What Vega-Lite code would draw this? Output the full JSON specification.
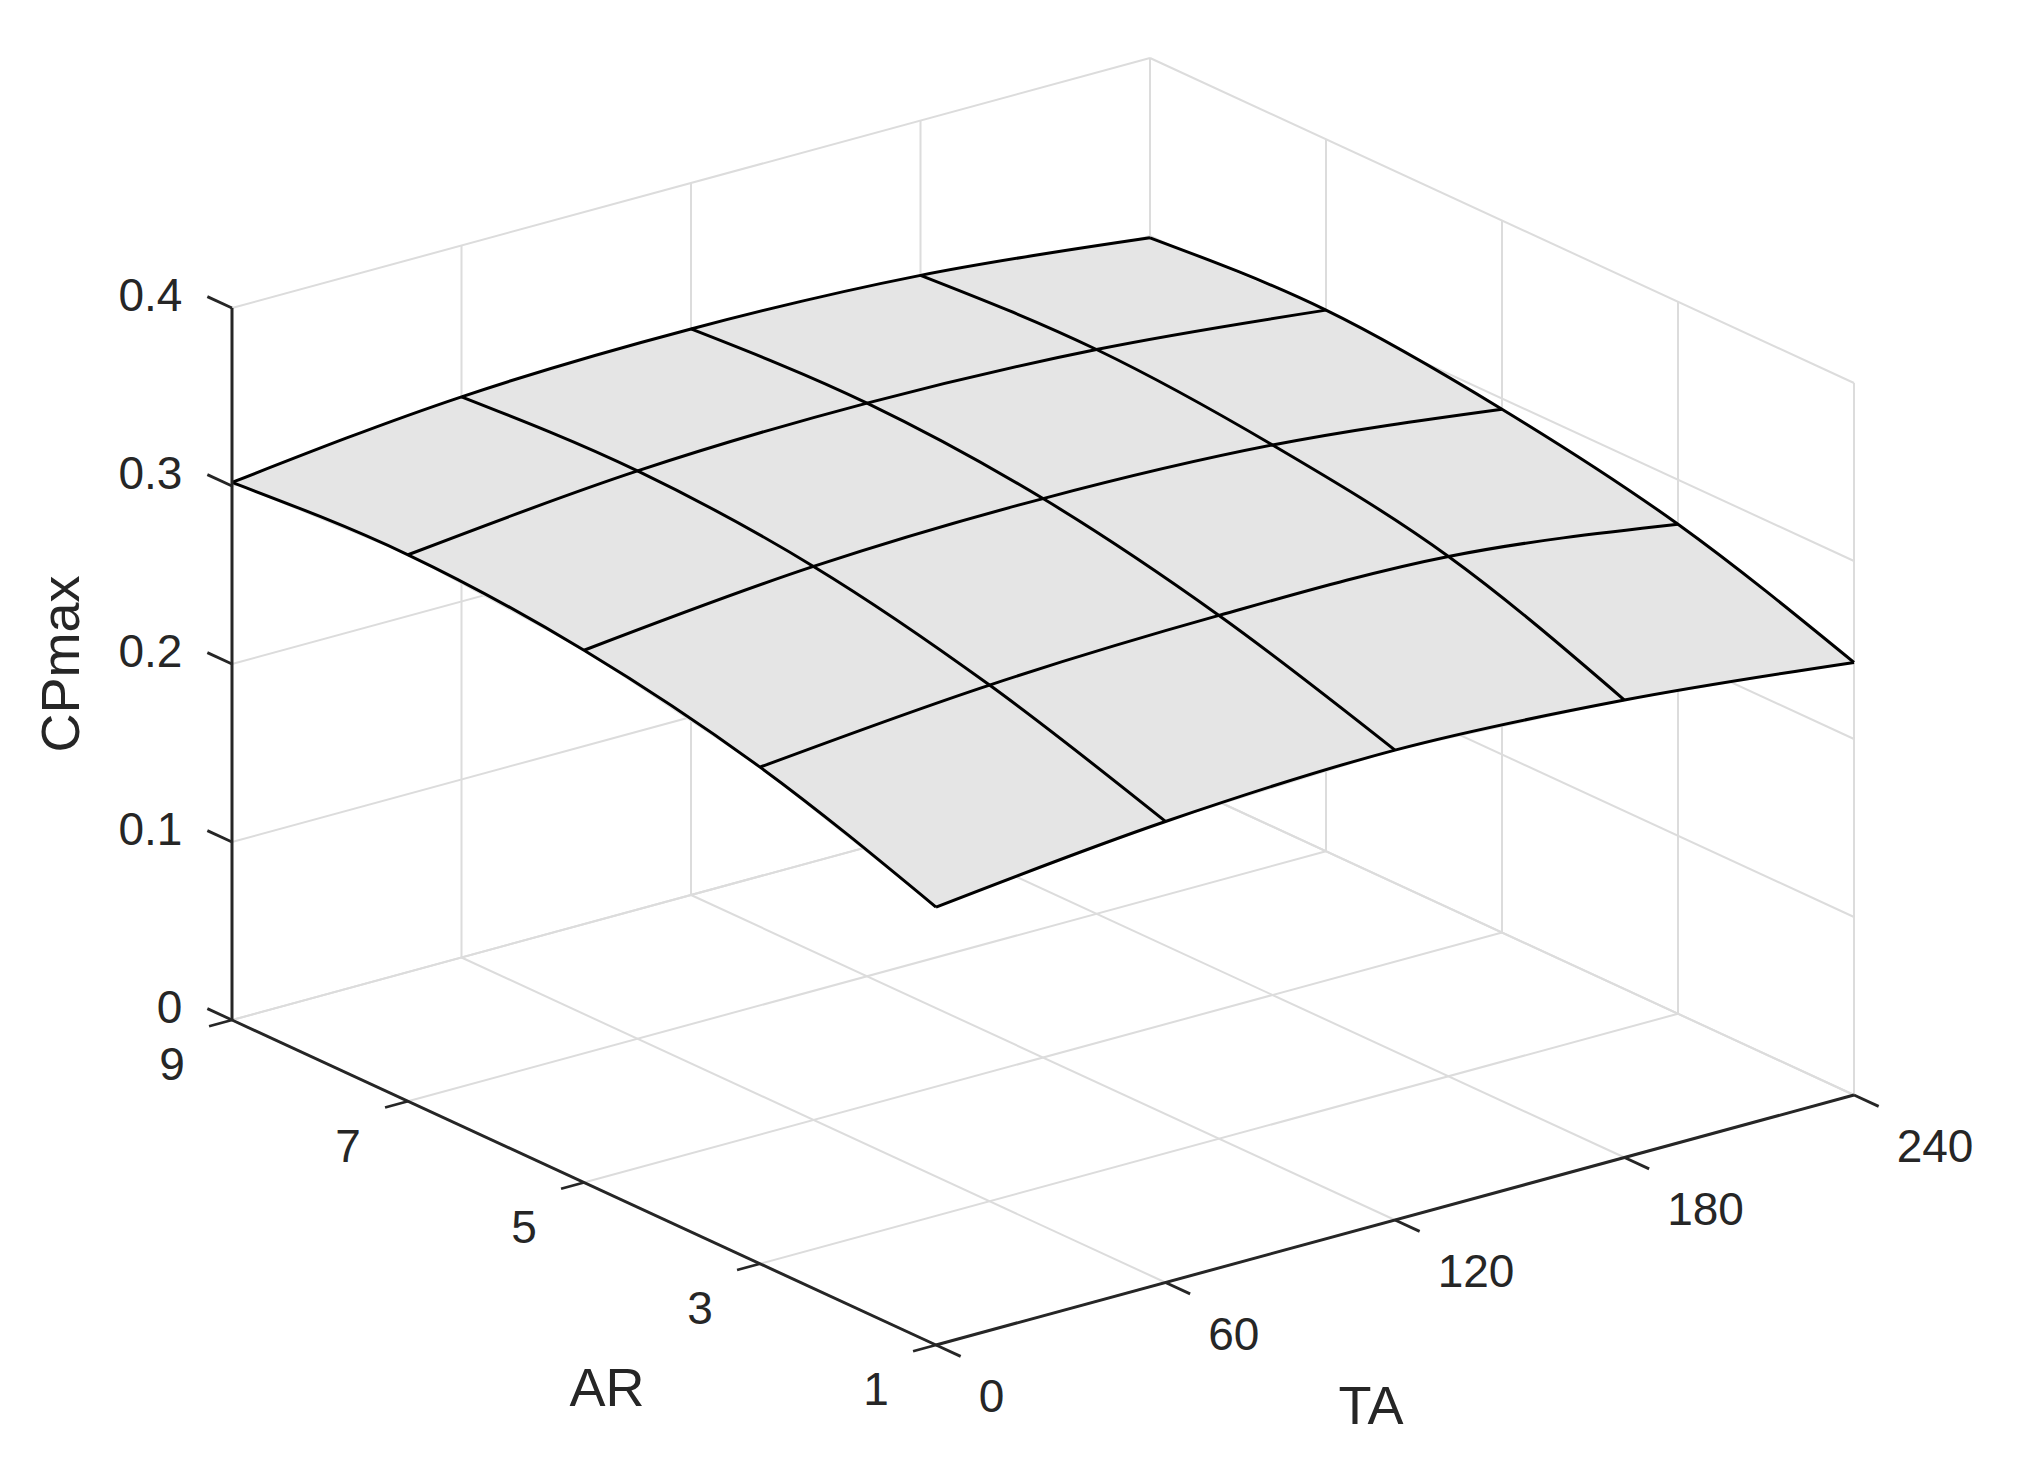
{
  "$schema": "https://vega.github.io/schema/vega-lite/v6.json",
  "width": 2021,
  "height": 1466,
  "autosize": {"type": "fit", "contains": "padding"},
  "padding": 0,
  "background": "white",
  "config": {"view": {"stroke": null}},
  "datasets": {
    "surface": [
      {"AR": 1, "TA": 0, "CPmax": 0.246}, {"AR": 1, "TA": 60, "CPmax": 0.259}, {"AR": 1, "TA": 120, "CPmax": 0.264}, {"AR": 1, "TA": 180, "CPmax": 0.257}, {"AR": 1, "TA": 240, "CPmax": 0.243},
      {"AR": 3, "TA": 0, "CPmax": 0.279}, {"AR": 3, "TA": 60, "CPmax": 0.290}, {"AR": 3, "TA": 120, "CPmax": 0.294}, {"AR": 3, "TA": 180, "CPmax": 0.292}, {"AR": 3, "TA": 240, "CPmax": 0.275},
      {"AR": 5, "TA": 0, "CPmax": 0.299}, {"AR": 5, "TA": 60, "CPmax": 0.311}, {"AR": 5, "TA": 120, "CPmax": 0.314}, {"AR": 5, "TA": 180, "CPmax": 0.309}, {"AR": 5, "TA": 240, "CPmax": 0.294},
      {"AR": 7, "TA": 0, "CPmax": 0.307}, {"AR": 7, "TA": 60, "CPmax": 0.319}, {"AR": 7, "TA": 120, "CPmax": 0.322}, {"AR": 7, "TA": 180, "CPmax": 0.317}, {"AR": 7, "TA": 240, "CPmax": 0.304},
      {"AR": 9, "TA": 0, "CPmax": 0.302}, {"AR": 9, "TA": 60, "CPmax": 0.315}, {"AR": 9, "TA": 120, "CPmax": 0.318}, {"AR": 9, "TA": 180, "CPmax": 0.313}, {"AR": 9, "TA": 240, "CPmax": 0.299}
    ],
    "arTicks": [{"AR": 1}, {"AR": 3}, {"AR": 5}, {"AR": 7}, {"AR": 9}],
    "taTicks": [{"TA": 0}, {"TA": 60}, {"TA": 120}, {"TA": 180}, {"TA": 240}],
    "zTicks": [{"z": 0}, {"z": 0.1}, {"z": 0.2}, {"z": 0.3}, {"z": 0.4}]
  },
  "encoding": {
    "x": {"field": "x", "type": "quantitative", "scale": {"domain": [0, 2021], "nice": false, "zero": false}, "axis": null},
    "y": {"field": "y", "type": "quantitative", "scale": {"domain": [0, 1466], "reverse": true, "nice": false, "zero": false}, "axis": null}
  },
  "layer": [
    {
      "data": {"name": "arTicks"},
      "transform": [
        {"calculate": "936 - 88*(datum.AR-1)", "as": "x"},
        {"calculate": "1345 - 40.625*(datum.AR-1)", "as": "y"},
        {"calculate": "936 + 3.825*240 - 88*(datum.AR-1)", "as": "x2"},
        {"calculate": "1345 - 40.625*(datum.AR-1) - 250", "as": "y2"}
      ],
      "mark": {"type": "rule", "color": "#dcdcdc", "strokeWidth": 2},
      "encoding": {"x2": {"field": "x2"}, "y2": {"field": "y2"}}
    },
    {
      "data": {"name": "taTicks"},
      "transform": [
        {"calculate": "936 + 3.825*datum.TA", "as": "x"},
        {"calculate": "1345 - 250*datum.TA/240", "as": "y"},
        {"calculate": "936 + 3.825*datum.TA - 704", "as": "x2"},
        {"calculate": "1345 - 250*datum.TA/240 - 325", "as": "y2"}
      ],
      "mark": {"type": "rule", "color": "#dcdcdc", "strokeWidth": 2},
      "encoding": {"x2": {"field": "x2"}, "y2": {"field": "y2"}}
    },
    {
      "data": {"name": "taTicks"},
      "transform": [
        {"calculate": "232 + 3.825*datum.TA", "as": "x"},
        {"calculate": "1020 - 250*datum.TA/240", "as": "y"},
        {"calculate": "232 + 3.825*datum.TA", "as": "x2"},
        {"calculate": "1020 - 250*datum.TA/240 - 712", "as": "y2"}
      ],
      "mark": {"type": "rule", "color": "#dcdcdc", "strokeWidth": 2},
      "encoding": {"x2": {"field": "x2"}, "y2": {"field": "y2"}}
    },
    {
      "data": {"name": "zTicks"},
      "transform": [
        {"calculate": "232", "as": "x"},
        {"calculate": "1020 - 1780*datum.z", "as": "y"},
        {"calculate": "232 + 918", "as": "x2"},
        {"calculate": "1020 - 1780*datum.z - 250", "as": "y2"}
      ],
      "mark": {"type": "rule", "color": "#dcdcdc", "strokeWidth": 2},
      "encoding": {"x2": {"field": "x2"}, "y2": {"field": "y2"}}
    },
    {
      "data": {"name": "arTicks"},
      "transform": [
        {"calculate": "1854 - 88*(datum.AR-1)", "as": "x"},
        {"calculate": "1095 - 40.625*(datum.AR-1)", "as": "y"},
        {"calculate": "1854 - 88*(datum.AR-1)", "as": "x2"},
        {"calculate": "1095 - 40.625*(datum.AR-1) - 712", "as": "y2"}
      ],
      "mark": {"type": "rule", "color": "#dcdcdc", "strokeWidth": 2},
      "encoding": {"x2": {"field": "x2"}, "y2": {"field": "y2"}}
    },
    {
      "data": {"name": "zTicks"},
      "transform": [
        {"calculate": "1854", "as": "x"},
        {"calculate": "1095 - 1780*datum.z", "as": "y"},
        {"calculate": "1854 - 704", "as": "x2"},
        {"calculate": "1095 - 1780*datum.z - 325", "as": "y2"}
      ],
      "mark": {"type": "rule", "color": "#dcdcdc", "strokeWidth": 2},
      "encoding": {"x2": {"field": "x2"}, "y2": {"field": "y2"}}
    },
    {
      "data": {"name": "surface"},
      "transform": [
        {"filter": "datum.AR == 1 || datum.AR == 9 || datum.TA == 0 || datum.TA == 240"},
        {"calculate": "datum.AR == 1 ? datum.TA/60 : (datum.TA == 240 ? 4 + (datum.AR-1)/2 : (datum.AR == 9 ? 8 + (240-datum.TA)/60 : 12 + (9-datum.AR)/2))", "as": "ord"},
        {"calculate": "936 + 3.825*datum.TA - 88*(datum.AR-1)", "as": "x"},
        {"calculate": "1345 - 40.625*(datum.AR-1) - 250*datum.TA/240 - 1780*datum.CPmax", "as": "y"}
      ],
      "mark": {"type": "line", "interpolate": "linear-closed", "fill": "#e5e5e5", "stroke": "#e5e5e5", "strokeWidth": 1},
      "encoding": {"order": {"field": "ord", "type": "quantitative"}}
    },
    {
      "data": {"name": "surface"},
      "transform": [
        {"calculate": "936 + 3.825*datum.TA - 88*(datum.AR-1)", "as": "x"},
        {"calculate": "1345 - 40.625*(datum.AR-1) - 250*datum.TA/240 - 1780*datum.CPmax", "as": "y"}
      ],
      "mark": {"type": "line", "interpolate": "monotone", "color": "#000000", "strokeWidth": 3},
      "encoding": {"detail": {"field": "AR", "type": "nominal"}}
    },
    {
      "data": {"name": "surface"},
      "transform": [
        {"calculate": "936 + 3.825*datum.TA - 88*(datum.AR-1)", "as": "x"},
        {"calculate": "1345 - 40.625*(datum.AR-1) - 250*datum.TA/240 - 1780*datum.CPmax", "as": "y"}
      ],
      "mark": {"type": "line", "interpolate": "monotone", "color": "#000000", "strokeWidth": 3},
      "encoding": {"detail": {"field": "TA", "type": "nominal"}}
    },
    {
      "data": {"name": "zTicks"},
      "transform": [
        {"aggregate": [{"op": "min", "field": "z", "as": "z0"}, {"op": "max", "field": "z", "as": "z1"}]},
        {"calculate": "232", "as": "x"},
        {"calculate": "1020 - 1780*datum.z0", "as": "y"},
        {"calculate": "232", "as": "x2"},
        {"calculate": "1020 - 1780*datum.z1", "as": "y2"}
      ],
      "mark": {"type": "rule", "color": "#262626", "strokeWidth": 3},
      "encoding": {"x2": {"field": "x2"}, "y2": {"field": "y2"}}
    },
    {
      "data": {"name": "arTicks"},
      "transform": [
        {"aggregate": [{"op": "min", "field": "AR", "as": "a0"}, {"op": "max", "field": "AR", "as": "a1"}]},
        {"calculate": "936 - 88*(datum.a0-1)", "as": "x"},
        {"calculate": "1345 - 40.625*(datum.a0-1)", "as": "y"},
        {"calculate": "936 - 88*(datum.a1-1)", "as": "x2"},
        {"calculate": "1345 - 40.625*(datum.a1-1)", "as": "y2"}
      ],
      "mark": {"type": "rule", "color": "#262626", "strokeWidth": 3},
      "encoding": {"x2": {"field": "x2"}, "y2": {"field": "y2"}}
    },
    {
      "data": {"name": "taTicks"},
      "transform": [
        {"aggregate": [{"op": "min", "field": "TA", "as": "t0"}, {"op": "max", "field": "TA", "as": "t1"}]},
        {"calculate": "936 + 3.825*datum.t0", "as": "x"},
        {"calculate": "1345 - 250*datum.t0/240", "as": "y"},
        {"calculate": "936 + 3.825*datum.t1", "as": "x2"},
        {"calculate": "1345 - 250*datum.t1/240", "as": "y2"}
      ],
      "mark": {"type": "rule", "color": "#262626", "strokeWidth": 3},
      "encoding": {"x2": {"field": "x2"}, "y2": {"field": "y2"}}
    },
    {
      "data": {"name": "zTicks"},
      "transform": [
        {"calculate": "232", "as": "x"},
        {"calculate": "1020 - 1780*datum.z", "as": "y"},
        {"calculate": "232 - 88*0.28", "as": "x2"},
        {"calculate": "1020 - 1780*datum.z - 40.625*0.28", "as": "y2"}
      ],
      "mark": {"type": "rule", "color": "#262626", "strokeWidth": 2.8},
      "encoding": {"x2": {"field": "x2"}, "y2": {"field": "y2"}}
    },
    {
      "data": {"name": "arTicks"},
      "transform": [
        {"calculate": "936 - 88*(datum.AR-1)", "as": "x"},
        {"calculate": "1345 - 40.625*(datum.AR-1)", "as": "y"},
        {"calculate": "936 - 88*(datum.AR-1) - 3.825*6", "as": "x2"},
        {"calculate": "1345 - 40.625*(datum.AR-1) + 250*6/240", "as": "y2"}
      ],
      "mark": {"type": "rule", "color": "#262626", "strokeWidth": 2.8},
      "encoding": {"x2": {"field": "x2"}, "y2": {"field": "y2"}}
    },
    {
      "data": {"name": "taTicks"},
      "transform": [
        {"calculate": "936 + 3.825*datum.TA", "as": "x"},
        {"calculate": "1345 - 250*datum.TA/240", "as": "y"},
        {"calculate": "936 + 3.825*datum.TA + 88*0.28", "as": "x2"},
        {"calculate": "1345 - 250*datum.TA/240 + 40.625*0.28", "as": "y2"}
      ],
      "mark": {"type": "rule", "color": "#262626", "strokeWidth": 2.8},
      "encoding": {"x2": {"field": "x2"}, "y2": {"field": "y2"}}
    },
    {
      "data": {"name": "zTicks"},
      "transform": [
        {"calculate": "232 - 88*0.28", "as": "x"},
        {"calculate": "1020 - 1780*datum.z - 40.625*0.28", "as": "y"}
      ],
      "mark": {"type": "text", "align": "right", "baseline": "middle", "dx": -25, "font": "Liberation Sans", "fontSize": 46, "color": "#262626"},
      "encoding": {"text": {"field": "z", "type": "quantitative", "format": ".1~f"}}
    },
    {
      "data": {"name": "arTicks"},
      "transform": [
        {"calculate": "936 - 88*(datum.AR-1) - 3.825*6", "as": "x"},
        {"calculate": "1345 - 40.625*(datum.AR-1) + 250*6/240", "as": "y"}
      ],
      "mark": {"type": "text", "align": "center", "baseline": "middle", "dx": -37, "dy": 40, "font": "Liberation Sans", "fontSize": 46, "color": "#262626"},
      "encoding": {"text": {"field": "AR", "type": "quantitative"}}
    },
    {
      "data": {"name": "taTicks"},
      "transform": [
        {"calculate": "936 + 3.825*datum.TA + 88*0.28", "as": "x"},
        {"calculate": "1345 - 250*datum.TA/240 + 40.625*0.28", "as": "y"}
      ],
      "mark": {"type": "text", "align": "left", "baseline": "middle", "dx": 18, "dy": 42, "font": "Liberation Sans", "fontSize": 46, "color": "#262626"},
      "encoding": {"text": {"field": "TA", "type": "quantitative"}}
    },
    {
      "data": {"name": "zTicks"},
      "transform": [
        {"aggregate": [{"op": "mean", "field": "z", "as": "zm"}]},
        {"calculate": "232", "as": "x"},
        {"calculate": "1020 - 1780*datum.zm", "as": "y"}
      ],
      "mark": {"type": "text", "align": "center", "baseline": "middle", "angle": 270, "dy": -169, "font": "Liberation Sans", "fontSize": 54, "color": "#262626"},
      "encoding": {"text": {"value": "CPmax"}}
    },
    {
      "data": {"name": "arTicks"},
      "transform": [
        {"aggregate": [{"op": "mean", "field": "AR", "as": "am"}]},
        {"calculate": "936 - 88*(datum.am-1)", "as": "x"},
        {"calculate": "1345 - 40.625*(datum.am-1)", "as": "y"}
      ],
      "mark": {"type": "text", "align": "center", "baseline": "middle", "dx": 23, "dy": 207, "font": "Liberation Sans", "fontSize": 54, "color": "#262626"},
      "encoding": {"text": {"value": "AR"}}
    },
    {
      "data": {"name": "taTicks"},
      "transform": [
        {"aggregate": [{"op": "mean", "field": "TA", "as": "tm"}]},
        {"calculate": "936 + 3.825*datum.tm", "as": "x"},
        {"calculate": "1345 - 250*datum.tm/240", "as": "y"}
      ],
      "mark": {"type": "text", "align": "center", "baseline": "middle", "dx": -24, "dy": 188, "font": "Liberation Sans", "fontSize": 54, "color": "#262626"},
      "encoding": {"text": {"value": "TA"}}
    }
  ]
}
